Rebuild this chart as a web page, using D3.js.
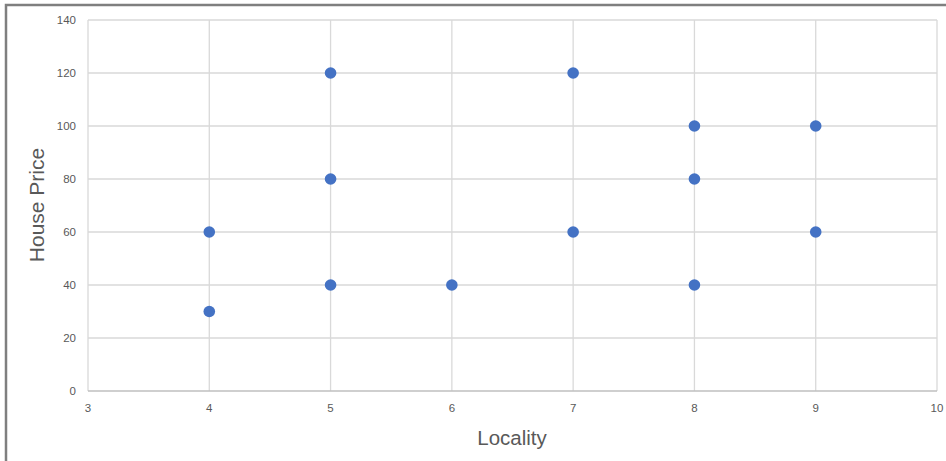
<!DOCTYPE html>
<html><head><meta charset="utf-8">
<script src="https://cdn.jsdelivr.net/npm/d3@7"></script>
<style>body{margin:0;background:#fff}svg{display:block}</style>
</head><body><svg id="c" width="946" height="461"></svg>
<script>
const locality = [4,4,5,5,5,6,7,7,8,8,8,9,9];
const housePrice = [60,30,120,80,40,40,120,60,100,80,40,100,60];
const xTicks = [3,4,5,6,7,8,9,10];
const yTicks = [0,20,40,60,80,100,120,140];

const svg = d3.select('#c');
const W = 946, H = 461;
svg.append('rect').attr('width',W).attr('height',H).attr('fill','#fff');
svg.append('path').attr('d',`M6,${H} V5 H${W}`).attr('fill','none').attr('stroke','#7f7f7f').attr('stroke-width',2.5);

const x = d3.scaleLinear().domain([3,10]).range([88,937]);
const y = d3.scaleLinear().domain([0,140]).range([391,20]);
const grid = '#d9d9d9';
const g = svg.append('g');
g.selectAll('.vg').data(xTicks).join('line')
  .attr('x1',d=>x(d)).attr('x2',d=>x(d)).attr('y1',y(0)).attr('y2',y(140))
  .attr('stroke',grid).attr('stroke-width',1.3);
g.selectAll('.hg').data(yTicks.filter(d=>d>0)).join('line')
  .attr('x1',x(3)).attr('x2',x(10)).attr('y1',d=>y(d)).attr('y2',d=>y(d))
  .attr('stroke',grid).attr('stroke-width',1.3);
g.append('line').attr('x1',x(3)).attr('x2',x(10)).attr('y1',y(0)).attr('y2',y(0)).attr('stroke','#bfbfbf').attr('stroke-width',1.3);

const font = "'Liberation Sans', Arial, sans-serif";
g.selectAll('.xt').data(xTicks).join('text')
  .attr('x',d=>x(d)).attr('y',412).attr('text-anchor','middle')
  .attr('font-family',font).attr('font-size',11.5).attr('fill','#595959').text(d=>d);
g.selectAll('.yt').data(yTicks).join('text')
  .attr('x',76).attr('y',d=>y(d)+4).attr('text-anchor','end')
  .attr('font-family',font).attr('font-size',11.5).attr('fill','#595959').text(d=>d);

svg.append('text').attr('x',512).attr('y',445).attr('text-anchor','middle')
  .attr('font-family',font).attr('font-size',20.5).attr('fill','#595959').text('Locality');
svg.append('text').attr('transform','translate(44,205) rotate(-90)').attr('text-anchor','middle')
  .attr('font-family',font).attr('font-size',21).attr('fill','#595959').text('House Price');

svg.append('g').selectAll('circle').data(locality.map((d,i)=>[d,housePrice[i]])).join('circle')
  .attr('cx',d=>x(d[0])).attr('cy',d=>y(d[1])).attr('r',5.8).attr('fill','#4472c4');
</script></body></html>
